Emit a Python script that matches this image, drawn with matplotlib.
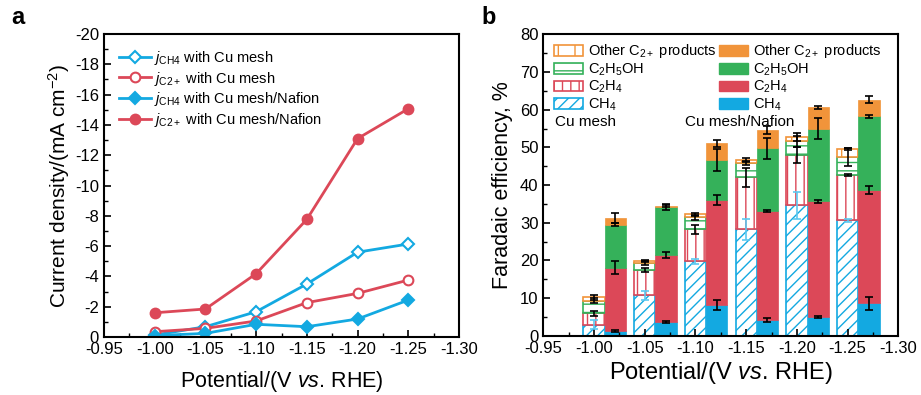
import matplotlib
matplotlib.use('Agg')
import matplotlib.pyplot as plt
from matplotlib.patches import Patch
from matplotlib.ticker import MultipleLocator, FormatStrFormatter
import numpy as np

plt.rcParams.update({'font.family': 'Liberation Sans', 'font.size': 12,
                     'mathtext.fontset': 'custom',
                     'mathtext.rm': 'Liberation Sans',
                     'mathtext.it': 'Liberation Sans:italic',
                     'axes.unicode_minus': False,
                     'hatch.linewidth': 1.0})

blue = '#13a9e1'
red = '#dc4858'
green = '#35b15a'
orange = '#f1943a'

potential = np.array([-1.00, -1.05, -1.10, -1.15, -1.20, -1.25])

# panel a: partial current densities (mA cm-2)
j_ch4_cu = [-0.13, -0.68, -1.67, -3.50, -5.60, -6.14]
j_c2_cu = [-0.35, -0.57, -1.06, -2.27, -2.88, -3.76]
j_ch4_naf = [-0.09, -0.24, -0.84, -0.68, -1.19, -2.44]
j_c2_naf = [-1.60, -1.85, -4.18, -7.77, -13.10, -15.07]

# panel b: Faradaic efficiencies (%), Cu mesh
fe_ch4_cu = [2.9, 10.8, 19.7, 28.2, 34.6, 30.6]
fe_c2h4_cu = [3.0, 6.6, 8.6, 13.8, 13.4, 12.0]
fe_etoh_cu = [3.4, 1.8, 3.1, 3.9, 3.6, 4.8]
fe_other_cu = [0.9, 0.7, 0.8, 0.8, 1.1, 2.2]
err_ch4_cu = [1.2, 1.2, 0.6, 2.8, 3.5, 0.4]
err_c2h4_cu = [0.6, 0.6, 1.2, 2.5, 2.2, 0.3]
err_etoh_cu = [0.6, 0.5, 0.7, 0.5, 1.5, 2.3]
err_other_cu = [0.6, 0.3, 0.5, 0.5, 1.0, 0.3]

# Cu mesh/Nafion
fe_ch4_naf = [1.25, 3.55, 8.15, 4.2, 4.9, 8.6]
fe_c2h4_naf = [16.85, 17.85, 27.85, 28.9, 30.8, 30.1]
fe_etoh_naf = [11.3, 12.8, 10.6, 16.6, 19.3, 19.6]
fe_other_naf = [1.8, 0.2, 4.5, 4.9, 5.6, 4.4]
err_ch4_naf = [0.2, 0.3, 1.2, 0.5, 0.2, 1.7]
err_c2h4_naf = [1.8, 0.9, 1.3, 0.3, 0.4, 1.0]
err_etoh_naf = [0.4, 0.7, 3.0, 2.9, 2.8, 0.4]
err_other_naf = [1.3, 0.3, 0.9, 1.0, 0.5, 1.0]

xlabel = 'Potential/(V $\\mathit{vs}$. RHE)'

fig = plt.figure(figsize=(9.21, 3.95), dpi=100)
ax1 = fig.add_axes([0.1129, 0.1468, 0.3855, 0.767])
ax2 = fig.add_axes([0.5899, 0.1501, 0.3855, 0.763])

# ---- panel a
kw = dict(lw=2, ms=7, mew=1.5)
ax1.plot(potential, j_ch4_cu, '-D', color=blue, mfc='white', mec=blue,
         label='$j_{\\mathrm{CH4}}$ with Cu mesh', ms=6, lw=2, mew=1.5)
ax1.plot(potential, j_c2_cu, '-o', color=red, mfc='white', mec=red,
         label='$j_{\\mathrm{C2+}}$ with Cu mesh', **kw)
ax1.plot(potential, j_ch4_naf, '-D', color=blue,
         label='$j_{\\mathrm{CH4}}$ with Cu mesh/Nafion', ms=6, lw=2, mew=1.5)
ax1.plot(potential, j_c2_naf, '-o', color=red,
         label='$j_{\\mathrm{C2+}}$ with Cu mesh/Nafion', **kw)
ax1.set_xlim(-0.95, -1.30)
ax1.set_ylim(0, -20)
ax1.xaxis.set_major_locator(MultipleLocator(0.05))
ax1.xaxis.set_minor_locator(MultipleLocator(0.025))
ax1.xaxis.set_major_formatter(FormatStrFormatter('%.2f'))
ax1.yaxis.set_major_locator(MultipleLocator(2))
ax1.yaxis.set_minor_locator(MultipleLocator(1))
ax1.set_xlabel(xlabel, fontsize=15.5, labelpad=9)
ax1.set_ylabel('Current density/(mA cm$^{-2}$)', fontsize=15, labelpad=2)
ax1.legend(loc='upper left', frameon=False, fontsize=10.5, handlelength=2.2,
           handletextpad=0.2, labelspacing=0.2, borderaxespad=0.6)

# ---- panel b
w = 0.021
x_cu = potential
x_naf = potential - w


def stack(ax, x, parts, errs, colors, hatches, errcols):
    bottom = np.zeros(len(x))
    for h, e, c, ht, ec in zip(parts, errs, colors, hatches, errcols):
        h = np.array(h)
        if ht is None:
            ax.bar(x, h, w, bottom=bottom, color=c, edgecolor=c, lw=0.5)
        else:
            ax.bar(x, h, w, bottom=bottom, color='white', edgecolor=c,
                   hatch=ht, lw=1.2)
        bottom = bottom + h
        ax.errorbar(x, bottom, yerr=e, fmt='none', ecolor=ec, elinewidth=1.2,
                    capsize=3, capthick=1.2, zorder=5)


cols = [blue, red, green, orange]
stack(ax2, x_cu, [fe_ch4_cu, fe_c2h4_cu, fe_etoh_cu, fe_other_cu],
      [err_ch4_cu, err_c2h4_cu, err_etoh_cu, err_other_cu], cols,
      ['///', '||', '--', '+'], ['#5cc8f0', 'k', 'k', 'k'])
stack(ax2, x_naf, [fe_ch4_naf, fe_c2h4_naf, fe_etoh_naf, fe_other_naf],
      [err_ch4_naf, err_c2h4_naf, err_etoh_naf, err_other_naf], cols,
      [None] * 4, ['k'] * 4)

ax2.set_xlim(-0.95, -1.30)
ax2.set_ylim(0, 80)
ax2.xaxis.set_major_locator(MultipleLocator(0.05))
ax2.xaxis.set_minor_locator(MultipleLocator(0.025))
ax2.xaxis.set_major_formatter(FormatStrFormatter('%.2f'))
ax2.yaxis.set_major_locator(MultipleLocator(10))
ax2.yaxis.set_minor_locator(MultipleLocator(5))
ax2.set_xlabel(xlabel, fontsize=17, labelpad=3)
ax2.set_ylabel('Faradaic efficiency, %', fontsize=15.5, labelpad=5)

names = ['Other C$_{2+}$ products', 'C$_2$H$_5$OH', 'C$_2$H$_4$', 'CH$_4$']
hatch_l = ['+', '--', '||', '///']
col_l = [orange, green, red, blue]
handles = [Patch(facecolor='white', edgecolor=c, hatch=h, lw=1.2, label=n)
           for c, h, n in zip(col_l, hatch_l, names)]
handles += [Patch(facecolor=c, edgecolor=c, label=n)
            for c, n in zip(col_l, names)]
ax2.legend(handles=handles, loc='upper left', ncol=2, frameon=False,
           fontsize=10.5, handlelength=2.0, handleheight=0.75,
           handletextpad=0.3, columnspacing=0.2, labelspacing=0.08,
           borderaxespad=0.15, bbox_to_anchor=(0.008, 1.0))
ax2.text(0.033, 0.71, 'Cu mesh', transform=ax2.transAxes, fontsize=11,
         va='center')
ax2.text(0.40, 0.71, 'Cu mesh/Nafion', transform=ax2.transAxes, fontsize=11,
         va='center')

for ax in (ax1, ax2):
    ax.tick_params(which='both', direction='in', labelsize=12)
    ax.tick_params(which='major', length=5, width=1.2)
    ax.tick_params(which='minor', length=3, width=1.0)
    for s in ax.spines.values():
        s.set_linewidth(1.5)

fig.text(0.012, 0.94, 'a', fontsize=17, fontweight='bold')
fig.text(0.523, 0.94, 'b', fontsize=17, fontweight='bold')

fig.savefig('out.png', dpi=100)
